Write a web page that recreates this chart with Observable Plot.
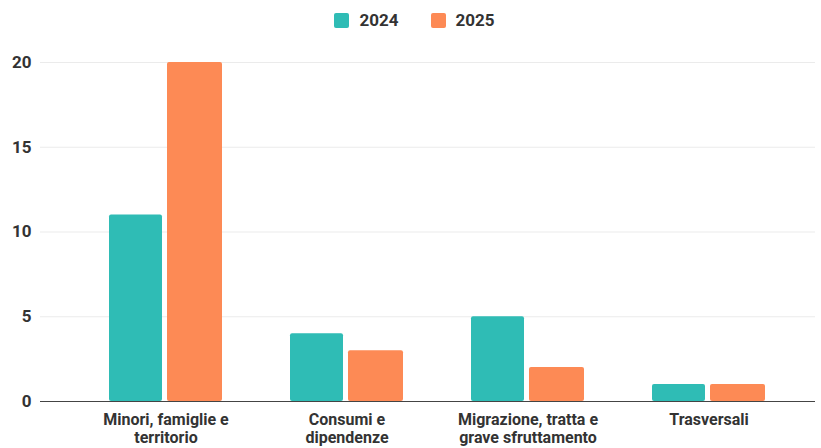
<!DOCTYPE html>
<html><head><meta charset="utf-8">
<script src="https://cdn.jsdelivr.net/npm/d3@7"></script>
<script src="https://cdn.jsdelivr.net/npm/@observablehq/plot@0.6"></script>
<style>
body{margin:0;background:#fff;font-family:Roboto,"Liberation Sans",sans-serif;}
#legend{height:40px;display:flex;justify-content:center;align-items:center;gap:32px;font-size:17px;font-weight:bold;color:#333;padding-left:8px;box-sizing:border-box;}
#legend span.sw{display:inline-block;width:15px;height:15px;border-radius:2px;margin-right:10px;vertical-align:-2px;}
</style></head>
<body>
<div id="legend"></div>
<div id="chart"></div>
<script>
const categories = ["Minori, famiglie e territorio", "Consumi e dipendenze", "Migrazione, tratta e grave sfruttamento", "Trasversali"];
const labels = ["Minori, famiglie e\nterritorio", "Consumi e\ndipendenze", "Migrazione, tratta e\ngrave sfruttamento", "Trasversali"];
const series = ["2024", "2025"];
const values2024 = [11, 4, 5, 1];
const values2025 = [20, 3, 2, 1];
const colors = ["#2fbcb5", "#fd8a55"];
const yTicks = [0, 5, 10, 15, 20];

const d24 = categories.map((c, i) => ({cat: c, v: values2024[i]}));
const d25 = categories.map((c, i) => ({cat: c, v: values2025[i]}));

const leg = document.getElementById("legend");
series.forEach((s, i) => {
  const d = document.createElement("div");
  d.innerHTML = `<span class="sw" style="background:${colors[i]}"></span>${s}`;
  leg.appendChild(d);
});

const chart = Plot.plot({
  width: 821, height: 408,
  marginLeft: 40, marginRight: 6, marginTop: 22, marginBottom: 47,
  style: {fontFamily: "Roboto, 'Liberation Sans', sans-serif", fontSize: "16px", color: "#333"},
  x: {domain: categories, range: [74, 801], paddingInner: 0.374, paddingOuter: 0.187, axis: null},
  y: {domain: [0, 20], ticks: yTicks, label: null},
  marks: [
    Plot.ruleY(yTicks.filter(t => t > 0), {stroke: "#ebebeb", strokeWidth: 1}),
    Plot.axisY({ticks: yTicks, tickSize: 0, tickPadding: 9, label: null, fontWeight: "bold", fontSize: 17}),
    Plot.barY(d24, {x: "cat", y: "v", fill: colors[0], insetRight: 60, rx: 2}),
    Plot.barY(d25, {x: "cat", y: "v", fill: colors[1], insetLeft: 58, rx: 2}),
    Plot.ruleY([0], {stroke: "#444", strokeWidth: 1.2}),
    Plot.axisX({domain: categories, tickSize: 0, tickPadding: 11, label: null, fontWeight: "bold", fontSize: 16, lineHeight: 1.1, tickFormat: d => labels[categories.indexOf(d)]})
  ]
});
document.getElementById("chart").appendChild(chart);
</script>
</body></html>
